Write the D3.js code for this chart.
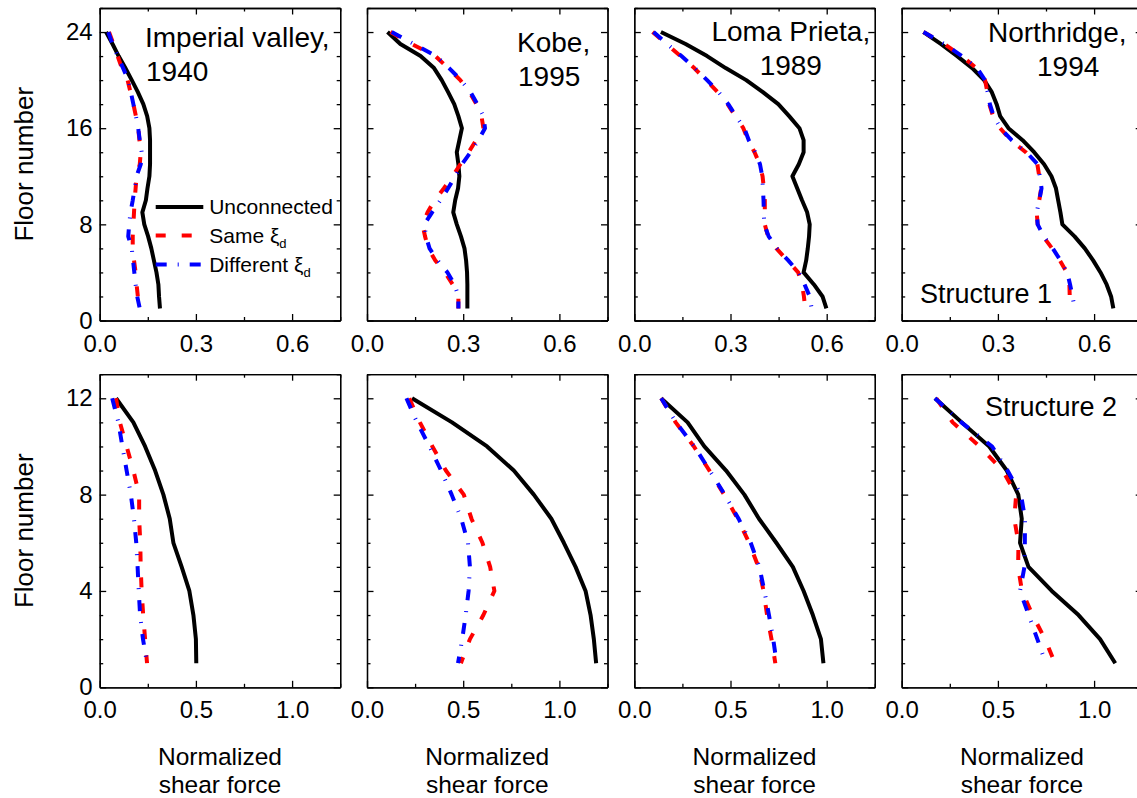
<!DOCTYPE html>
<html>
<head>
<meta charset="utf-8">
<script src="https://cdn.jsdelivr.net/npm/d3@7/dist/d3.min.js"></script>
<style>
  body { margin: 0; background: #fff; }
  svg { display: block; }
  text { font-family: "Liberation Sans", Arial, Helvetica, sans-serif; fill: #000; }
</style>
</head>
<body>
<svg id="chart" width="1137" height="798"></svg>
<script>
// ---- data -------------------------------------------------------------
const earthquakes = ["Imperial valley", "Kobe", "Loma Prieta", "Northridge"];
const titleLines = [["Imperial valley,", "1940"], ["Kobe,", "1995"], ["Loma Prieta,", "1989"], ["Northridge,", "1994"]];
const seriesNames = ["Unconnected", "Same", "Different"];
const structureNames = ["Structure 1", "Structure 2"];

const floorsS1 = [1,2,3,4,5,6,7,8,9,10,11,12,13,14,15,16,17,18,19,20,21,22,23,24];
const floorsS2 = [1,2,3,4,5,6,7,8,9,10,11,12];

// Structure 1 (24 storeys), normalized shear force per floor, floor 1 first
const s1Unconnected = [
  [0.188,0.185,0.183,0.177,0.169,0.161,0.151,0.139,0.133,0.144,0.149,0.155,0.157,0.157,0.157,0.155,0.148,0.136,0.119,0.100,0.080,0.059,0.040,0.020],
  [0.313,0.313,0.313,0.312,0.309,0.304,0.293,0.280,0.269,0.275,0.284,0.288,0.285,0.280,0.288,0.296,0.285,0.272,0.253,0.233,0.209,0.167,0.104,0.064],
  [0.599,0.587,0.560,0.528,0.536,0.541,0.545,0.547,0.539,0.523,0.508,0.493,0.513,0.528,0.528,0.515,0.483,0.449,0.401,0.349,0.285,0.227,0.160,0.083],
  [0.660,0.653,0.639,0.620,0.597,0.571,0.539,0.501,0.495,0.488,0.481,0.467,0.444,0.413,0.377,0.333,0.307,0.296,0.281,0.257,0.220,0.173,0.123,0.068]
];
const s1Same = [
  [0.125,0.119,0.115,0.112,0.107,0.103,0.103,0.105,0.107,0.109,0.112,0.115,0.125,0.128,0.124,0.120,0.113,0.105,0.096,0.087,0.069,0.056,0.043,0.029],
  [0.285,0.285,0.267,0.243,0.213,0.191,0.181,0.173,0.189,0.211,0.240,0.267,0.291,0.317,0.340,0.363,0.357,0.341,0.320,0.291,0.253,0.213,0.140,0.073],
  [0.533,0.529,0.523,0.511,0.477,0.443,0.417,0.407,0.407,0.407,0.404,0.400,0.391,0.375,0.355,0.340,0.315,0.291,0.260,0.224,0.187,0.144,0.100,0.057],
  [0.524,0.524,0.523,0.515,0.493,0.469,0.441,0.424,0.421,0.429,0.435,0.429,0.423,0.387,0.340,0.307,0.285,0.273,0.267,0.260,0.233,0.187,0.133,0.068]
];
const s1Different = [
  [0.125,0.117,0.112,0.108,0.104,0.100,0.089,0.092,0.096,0.103,0.109,0.115,0.128,0.131,0.125,0.120,0.113,0.105,0.097,0.089,0.073,0.056,0.040,0.027],
  [0.285,0.285,0.273,0.251,0.220,0.195,0.184,0.179,0.203,0.229,0.253,0.275,0.296,0.323,0.347,0.368,0.363,0.344,0.323,0.293,0.256,0.216,0.147,0.077],
  [0.553,0.547,0.531,0.513,0.480,0.445,0.419,0.405,0.404,0.403,0.401,0.399,0.392,0.377,0.357,0.343,0.317,0.293,0.263,0.227,0.189,0.147,0.103,0.060],
  [0.539,0.533,0.525,0.516,0.495,0.471,0.443,0.424,0.421,0.429,0.436,0.431,0.424,0.389,0.343,0.308,0.287,0.275,0.268,0.260,0.235,0.188,0.133,0.068]
];

// Structure 2 (12 storeys), floor 1 first
const s2Unconnected = [
  [0.502,0.500,0.487,0.466,0.426,0.383,0.364,0.331,0.288,0.236,0.175,0.085],
  [1.191,1.179,1.162,1.136,1.084,1.023,0.958,0.867,0.763,0.624,0.442,0.234],
  [0.983,0.970,0.928,0.880,0.824,0.738,0.648,0.572,0.477,0.364,0.277,0.139],
  [1.110,1.031,0.919,0.780,0.659,0.615,0.624,0.606,0.546,0.455,0.312,0.173]
];
const s2Same = [
  [0.246,0.236,0.226,0.218,0.213,0.211,0.205,0.205,0.175,0.140,0.105,0.085],
  [0.488,0.535,0.605,0.662,0.640,0.600,0.543,0.503,0.410,0.340,0.275,0.220],
  [0.733,0.713,0.690,0.672,0.645,0.597,0.537,0.467,0.390,0.310,0.215,0.140],
  [0.797,0.745,0.680,0.625,0.605,0.607,0.585,0.595,0.525,0.405,0.265,0.180]
];
const s2Different = [
  [0.246,0.225,0.210,0.203,0.197,0.190,0.178,0.162,0.140,0.118,0.097,0.065],
  [0.473,0.495,0.513,0.528,0.535,0.525,0.490,0.440,0.385,0.325,0.260,0.205],
  [0.740,0.722,0.700,0.676,0.650,0.605,0.542,0.470,0.392,0.312,0.217,0.140],
  [0.749,0.705,0.660,0.615,0.638,0.640,0.641,0.620,0.550,0.470,0.310,0.173]
];

// axis ticks
const s1XTicks = [0.0, 0.3, 0.6];
const s1XMinor = [0.15, 0.45, 0.75];
const s1YTicks = [0, 8, 16, 24];
const s1YMinor = [2, 4, 6, 10, 12, 14, 18, 20, 22, 26];
const s2XTicks = [0.0, 0.5, 1.0];
const s2XMinor = [0.25, 0.75, 1.25];
const s2YTicks = [0, 4, 8, 12];
const s2YMinor = [1, 2, 3, 5, 6, 7, 9, 10, 11, 13];

// ---- layout -----------------------------------------------------------
const svg = d3.select("#chart");
svg.append("rect").attr("width", 1137).attr("height", 798).attr("fill", "#fff");

const colX = [99.7, 367.0, 634.3, 901.7];
const panelW = 240.5;
const rows = [
  { top: 8.0, h: 312.5, xMax: 0.75, yMax: 26, floors: floorsS1,
    series: [s1Unconnected, s1Same, s1Different],
    xTicks: s1XTicks, xMinor: s1XMinor, yTicks: s1YTicks, yMinor: s1YMinor },
  { top: 374.2, h: 313.1, xMax: 1.25, yMax: 13, floors: floorsS2,
    series: [s2Unconnected, s2Same, s2Different],
    xTicks: s2XTicks, xMinor: s2XMinor, yTicks: s2YTicks, yMinor: s2YMinor }
];

const styles = [
  { color: "#000000", dash: null },
  { color: "#ff0000", dash: "10,16" },
  { color: "#0000ff", dash: "11,11,1,11" }
];
const lineWidth = 4;
const fmt = d3.format(".1f");

// title placement relative to each panel: [x, anchor, baseline1, x2, baseline2]
const titlePos = [
  [45.3, "start", 39, 46.3, 73],
  [150, "start", 44, 151, 78],
  [156.5, "middle", 33, 156.5, 67],
  [86.3, "start", 34, 135.3, 68]
];

function styleAxis(g) {
  g.selectAll("path.domain").attr("stroke", "#000").attr("stroke-width", 1.3);
  g.selectAll(".tick line").attr("stroke", "#000").attr("stroke-width", 1.3);
  g.selectAll(".tick text").attr("font-size", 24).attr("fill", "#000")
    .attr("font-family", "Liberation Sans, Arial, sans-serif");
}

rows.forEach((row, ri) => {
  colX.forEach((x0, ci) => {
    const g = svg.append("g").attr("transform", `translate(${x0},${row.top})`);
    const x = d3.scaleLinear().domain([0, row.xMax]).range([0, panelW]);
    const y = d3.scaleLinear().domain([0, row.yMax]).range([row.h, 0]);

    // minor ticks on all four sides
    [[d3.axisBottom(x), `translate(0,${row.h})`, row.xMinor],
     [d3.axisTop(x), null, row.xMinor],
     [d3.axisLeft(y), null, row.yMinor],
     [d3.axisRight(y), `translate(${panelW},0)`, row.yMinor]].forEach(([ax, tr, vals]) => {
      const a = g.append("g").call(ax.tickValues(vals).tickSize(-3.5).tickSizeOuter(0).tickFormat(""));
      if (tr) a.attr("transform", tr);
      styleAxis(a);
    });

    // major ticks, labelled on bottom (and left in the first column)
    const bx = g.append("g").attr("transform", `translate(0,${row.h})`)
      .call(d3.axisBottom(x).tickValues(row.xTicks).tickSize(-6.5).tickSizeOuter(0).tickPadding(14).tickFormat(fmt));
    styleAxis(bx);
    const tx = g.append("g")
      .call(d3.axisTop(x).tickValues(row.xTicks).tickSize(-6.5).tickSizeOuter(0).tickFormat(""));
    styleAxis(tx);
    const ly = g.append("g")
      .call(d3.axisLeft(y).tickValues(row.yTicks).tickSize(-6.5).tickSizeOuter(0).tickPadding(7)
        .tickFormat(ci === 0 ? d3.format("d") : ""));
    styleAxis(ly);
    const ry = g.append("g").attr("transform", `translate(${panelW},0)`)
      .call(d3.axisRight(y).tickValues(row.yTicks).tickSize(-6.5).tickSizeOuter(0).tickFormat(""));
    styleAxis(ry);

    // curves: unconnected, same damping, different damping
    row.series.forEach((set, si) => {
      const vals = set[ci];
      const pts = row.floors.map((f, i) => ({ f, v: vals[i] })).reverse();
      const line = d3.line().x(d => x(d.v)).y(d => y(d.f));
      const p = g.append("path").datum(pts)
        .attr("d", line)
        .attr("fill", "none")
        .attr("stroke", styles[si].color)
        .attr("stroke-width", lineWidth)
        .attr("stroke-linejoin", "round")
        .attr("stroke-linecap", "butt");
      if (styles[si].dash) p.attr("stroke-dasharray", styles[si].dash);
    });

    // earthquake name (top row only)
    if (ri === 0) {
      const tp = titlePos[ci];
      g.append("text").attr("x", tp[0]).attr("y", tp[2]).attr("text-anchor", tp[1])
        .attr("font-size", 28).text(titleLines[ci][0]);
      g.append("text").attr("x", tp[3]).attr("y", tp[4]).attr("text-anchor", tp[1])
        .attr("font-size", 28).text(titleLines[ci][1]);
    }

    // x-axis title under the lower row
    if (ri === 1) {
      const cx = panelW / 2;
      g.append("text").attr("x", cx).attr("y", 765 - row.top).attr("text-anchor", "middle")
        .attr("font-size", 24.5).text("Normalized");
      g.append("text").attr("x", cx).attr("y", 793 - row.top).attr("text-anchor", "middle")
        .attr("font-size", 24.5).text("shear force");
    }
  });

  // y-axis title for each row
  svg.append("text")
    .attr("transform", `translate(33,${row.top + row.h / 2}) rotate(-90)`)
    .attr("text-anchor", "middle").attr("font-size", 26).text("Floor number");
});

// structure labels
svg.append("text").attr("x", 920).attr("y", 303).attr("font-size", 27).text(structureNames[0]);
svg.append("text").attr("x", 985).attr("y", 416).attr("font-size", 27).text(structureNames[1]);

// legend (first panel)
const legend = svg.append("g").attr("transform", "translate(155.7,207)");
const legendRowGap = [0, 28.5, 57.5];
seriesNames.forEach((name, i) => {
  const r = legend.append("g").attr("transform", `translate(0,${legendRowGap[i]})`);
  const l = r.append("line").attr("x1", 0).attr("x2", 47.6).attr("y1", 0).attr("y2", 0)
    .attr("stroke", styles[i].color).attr("stroke-width", lineWidth);
  if (styles[i].dash) l.attr("stroke-dasharray", styles[i].dash);
  const t = r.append("text").attr("x", 53.5).attr("y", 7).attr("font-size", 21);
  if (i === 0) {
    t.text(name);
  } else {
    t.append("tspan").text(name + " \u03BE");
    t.append("tspan").attr("font-size", 13).attr("dy", 5).text("d");
  }
});
</script>
</body>
</html>
